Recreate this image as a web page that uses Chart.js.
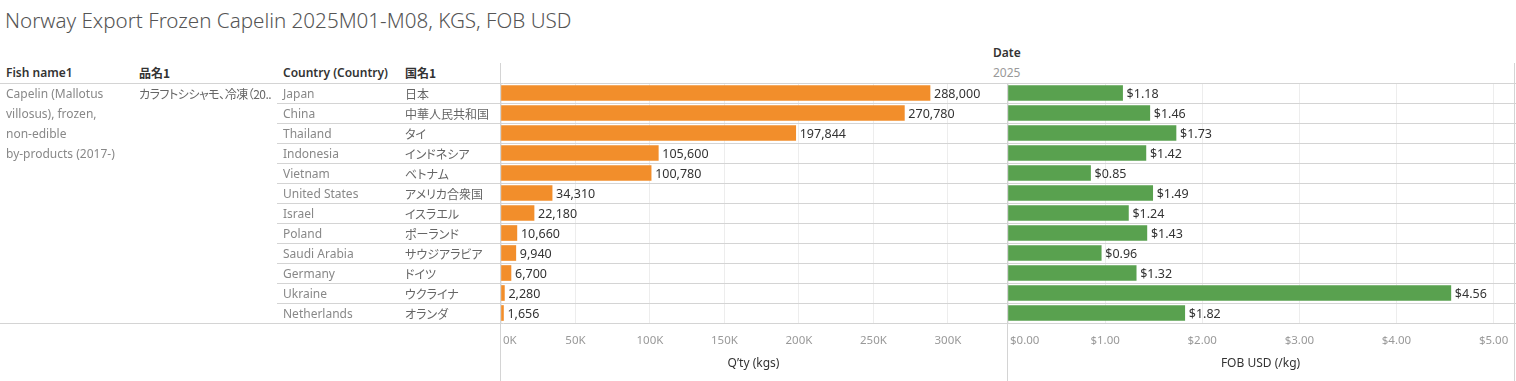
<!DOCTYPE html>
<html>
<head>
<meta charset="utf-8">
<script src="https://cdn.jsdelivr.net/npm/chart.js@4/dist/chart.umd.min.js"></script>
<style>
  html, body { margin:0; padding:0; background:#fff; }
  body { width:1516px; height:381px; position:relative; overflow:hidden;
         font-family:"Noto Sans","Noto Sans CJK JP",sans-serif; }
  .t { position:absolute; white-space:nowrap; line-height:16px; font-size:12px; }
  .jp { font-family:"Noto Sans CJK JP",sans-serif; font-feature-settings:"palt" 1; }
  #title { left:5px; top:7px; font-size:20.6px; line-height:26px; color:#555; font-weight:300; }
  .hdr { top:65px; color:#333; font-weight:600; }
  .cell { color:#888; }
  .cell.jp { color:#666; }
  .prod { letter-spacing:-0.5px; }
  canvas { position:absolute; top:0; }
</style>
</head>
<body>
<div id="title" class="t">Norway Export Frozen Capelin 2025M01-M08, KGS, FOB USD</div>
<div class="t hdr" style="left:6px">Fish name1</div>
<div class="t hdr jp" style="left:139px">品名1</div>
<div class="t hdr" style="left:283px">Country (Country)</div>
<div class="t hdr jp" style="left:405px">国名1</div>
<div class="t" style="left:993px;top:45px;color:#333;font-weight:600">Date</div>
<div class="t" style="left:993px;top:65px;color:#999">2025</div>
<canvas id="c1" width="1007" height="381" style="left:0"></canvas>
<canvas id="c2" width="509" height="381" style="left:1007px"></canvas>
<div id="cells"></div>
<script>
const fishName = ["Capelin (Mallotus", "villosus), frozen,", "non-edible", "by-products (2017-)"];
const productJa = "カラフトシシャモ、冷凍（20..";
const countries = ["Japan","China","Thailand","Indonesia","Vietnam","United States","Israel","Poland","Saudi Arabia","Germany","Ukraine","Netherlands"];
const countriesJa = ["日本","中華人民共和国","タイ","インドネシア","ベトナム","アメリカ合衆国","イスラエル","ポーランド","サウジアラビア","ドイツ","ウクライナ","オランダ"];
const qtyKgs = [288000,270780,197844,105600,100780,34310,22180,10660,9940,6700,2280,1656];
const fobUsdPerKg = [1.18,1.46,1.73,1.42,0.85,1.49,1.24,1.43,0.96,1.32,4.56,1.82];
const qtyTicks = [0,50000,100000,150000,200000,250000,300000];
const fobTicks = [0,1,2,3,4,5];

const LAT = '"Noto Sans", sans-serif';
const LINE = '#d4d4d4';

function drawCommon(chart, fmt, leftStart, axisTop, rightLine) {
  const {ctx, chartArea, scales:{x, y}} = chart;
  const n = countries.length;
  const half = (y.getPixelForValue(1) - y.getPixelForValue(0)) / 2;
  ctx.save();
  ctx.lineWidth = 1;
  ctx.strokeStyle = LINE;
  ctx.beginPath();
  const top = Math.round(y.getPixelForValue(0) - half) + 0.5;
  const bot = Math.round(y.getPixelForValue(n-1) + half) + 0.5;
  ctx.moveTo(0, top); ctx.lineTo(chart.width, top);
  ctx.moveTo(0, bot); ctx.lineTo(chart.width, bot);
  for (let i = 1; i < n; i++) {
    const yy = Math.round(y.getPixelForValue(i) - half) + 0.5;
    ctx.moveTo(leftStart, yy); ctx.lineTo(chart.width, yy);
  }
  const ax = Math.round(chartArea.left) - 0.5;
  ctx.moveTo(ax, axisTop); ctx.lineTo(ax, chart.height);
  if (rightLine) { ctx.moveTo(chart.width - 1.5, 63); ctx.lineTo(chart.width - 1.5, chart.height); }
  ctx.stroke();

  ctx.textBaseline = 'middle';
  // data labels
  const meta = chart.getDatasetMeta(0);
  const vals = chart.data.datasets[0].data;
  ctx.fillStyle = '#333'; ctx.font = '12.5px ' + LAT; ctx.textAlign = 'left';
  meta.data.forEach((bar, i) => ctx.fillText(fmt.label(vals[i]), bar.x + 4, bar.y + 1));

  // tick labels
  ctx.fillStyle = '#999'; ctx.font = '11.5px ' + LAT;
  x.ticks.forEach((t, k) => {
    const px = x.getPixelForValue(t.value);
    if (k === 0) { ctx.textAlign = 'left'; ctx.fillText(fmt.tick(t.value), px + 2, 341); }
    else { ctx.textAlign = 'center'; ctx.fillText(fmt.tick(t.value), px, 341); }
  });
  ctx.restore();
}

function makeChart(id, data, color, max, tickVals, padding, title, fmt, leftStart, axisTop, rightLine) {
  return new Chart(document.getElementById(id), {
    type: 'bar',
    data: { labels: countries, datasets: [{ data, backgroundColor: color, barThickness: 15, borderWidth: 0 }] },
    options: {
      indexAxis: 'y', responsive: false, maintainAspectRatio: false, animation: false,
      layout: { padding },
      plugins: { legend: { display: false }, tooltip: { enabled: false } },
      scales: {
        y: { type: 'category', display: false, offset: true },
        x: {
          type: 'linear', min: 0, max,
          afterBuildTicks: s => { s.ticks = tickVals.map(v => ({ value: v })); },
          ticks: { display: false },
          grid: { color: '#ededed', drawTicks: false },
          border: { display: false },
          title: { display: true, text: title, color: '#333', font: { family: LAT, size: 12 }, padding: { top: 0, bottom: 10 } },
          afterFit: s => { s.height = 58; }
        }
      }
    },
    plugins: [{ id: 'tbl', afterDraw: c => drawCommon(c, fmt, leftStart, axisTop, rightLine) }]
  });
}

const c1 = makeChart('c1', qtyKgs, '#F28E2B', 339000, qtyTicks, { left: 501, right: 1, top: 83, bottom: 0 }, 'Q’ty (kgs)',
  { label: v => v.toLocaleString('en-US'), tick: v => (v / 1000) + 'K' }, 277, 63, false);
makeChart('c2', fobUsdPerKg, '#59A14F', 5.2, fobTicks, { left: 1, right: 3, top: 83, bottom: 0 }, 'FOB USD (/kg)',
  { label: v => '$' + v.toFixed(2), tick: v => '$' + v.toFixed(2) }, 0, 83, true);

// table text cells, positioned from the category scale
const yS = c1.scales.y;
const cells = document.getElementById('cells');
function cell(text, left, cy, cls) {
  const d = document.createElement('div');
  d.className = 't cell ' + (cls || '');
  d.textContent = text;
  d.style.left = left + 'px';
  d.style.top = (cy - 8 + 0.5) + 'px';
  cells.appendChild(d);
}
countries.forEach((c, i) => {
  const cy = yS.getPixelForValue(i);
  cell(c, 283, cy);
  cell(countriesJa[i], 405, cy, 'jp');
});
const rowH = yS.getPixelForValue(1) - yS.getPixelForValue(0);
fishName.forEach((s, k) => cell(s, 6, yS.getPixelForValue(0) + k * rowH));
cell(productJa, 139, yS.getPixelForValue(0), 'jp prod');
</script>
</body>
</html>
